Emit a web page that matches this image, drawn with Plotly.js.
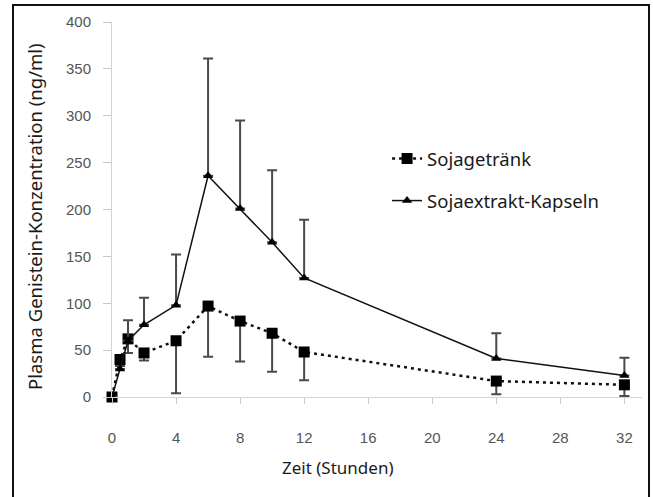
<!DOCTYPE html>
<html>
<head>
<meta charset="utf-8">
<script src="https://cdn.plot.ly/plotly-3.0.1.min.js"></script>
<style>
  html, body { margin: 0; padding: 0; background: #fff; }
  #wrap { position: relative; width: 653px; height: 497px; }
  #chart { width: 653px; height: 497px; }
  #frame { position: absolute; left: 12px; top: 4px; width: 634px; height: 500px;
           border: 2px solid #111; pointer-events: none; }
</style>
</head>
<body>
<div id="wrap">
  <div id="chart"></div>
  <div id="frame"></div>
</div>
<script>
// Time points (hours)
const zeit = [0, 0.5, 1, 2, 4, 6, 8, 10, 12, 24, 32];

// Sojagetränk (squares, dotted) – mean and lower SD
const getraenk = [0, 40, 62, 47, 60, 97, 81, 68, 48, 17, 13];
const getraenkSdMinus = [0, 3, 15, 8, 56, 54, 43, 41, 30, 14, 12];

// Sojaextrakt-Kapseln (triangles, solid) – mean and upper SD
const kapseln = [0, 30, 60, 77, 98, 236, 201, 165, 127, 41, 23];
const kapselnSdPlus = [0, 3, 22, 29, 54, 125, 94, 77, 62, 27, 19];

const zeros = zeit.map(() => 0);

const xTicks = [0, 4, 8, 12, 16, 20, 24, 28, 32];
const yTicks = [0, 50, 100, 150, 200, 250, 300, 350, 400];

const names = ["Sojagetränk", "Sojaextrakt-Kapseln"];
const xTitle = "Zeit (Stunden)";
const yTitle = "Plasma Genistein-Konzentration (ng/ml)";

const fam = "Noto Sans, Lato, sans-serif";
const legendFont = { family: fam, size: 18.5, color: "#1a1a1a" };
const xTitleFont = { family: fam, size: 17, color: "#1a1a1a" };
const yTitleFont = { family: fam, size: 18.5, color: "#1a1a1a" };
const tickFont = { family: "Liberation Sans, Arial, sans-serif", size: 15, color: "#555" };

const traces = [
  {
    x: zeit, y: getraenk, name: names[0], type: "scatter", mode: "lines+markers",
    legendgroup: "a",
    line: { color: "#111", width: 2.5, dash: "3px,4px" },
    marker: { symbol: "square", size: 11, color: "#000" },
    error_y: { type: "data", symmetric: false, array: zeros, arrayminus: getraenkSdMinus,
               color: "#4a4a4a", thickness: 2, width: 5 },
    cliponaxis: false
  },
  {
    x: zeit, y: kapseln, name: names[1], type: "scatter", mode: "lines+markers",
    legendgroup: "b",
    line: { color: "#111", width: 1.5 },
    marker: { symbol: "triangle-up", size: 9, color: "#000" },
    error_y: { type: "data", symmetric: false, array: kapselnSdPlus, arrayminus: zeros,
               color: "#4a4a4a", thickness: 2, width: 5 },
    cliponaxis: false
  }
];

const layout = {
  width: 653, height: 497,
  margin: { l: 112, r: 11, t: 22, b: 100 },
  paper_bgcolor: "#fff", plot_bgcolor: "#fff",
  showlegend: true,
  legend: {
    x: 0.519, y: (397 - 180) / 375, xanchor: "left", yanchor: "middle",
    font: legendFont, bgcolor: "rgba(0,0,0,0)",
    traceorder: "grouped", tracegroupgap: 15
  },
  xaxis: {
    range: [0, 33.1], tickvals: xTicks, ticktext: xTicks.map(String),
    showgrid: false, zeroline: false,
    showline: true, linecolor: "#d4d4d4", linewidth: 1,
    ticks: "outside", ticklen: 6, tickcolor: "#c8c8c8",
    ticklabelstandoff: 21,
    tickfont: tickFont
  },
  yaxis: {
    range: [0, 400], tickvals: yTicks, ticktext: yTicks.map(String),
    showgrid: false, zeroline: false,
    showline: true, linecolor: "#d4d4d4", linewidth: 1,
    ticks: "outside", ticklen: 8, tickcolor: "#c8c8c8",
    ticklabelstandoff: 9,
    tickfont: tickFont
  },
  annotations: [
    { text: xTitle, xref: "paper", yref: "paper", x: (338 - 112) / 530, y: -(467 - 397) / 375,
      xanchor: "center", yanchor: "middle", showarrow: false, font: xTitleFont },
    { text: yTitle, xref: "paper", yref: "paper", x: -(112 - 34) / 530, y: (397 - 217) / 375,
      xanchor: "center", yanchor: "middle", showarrow: false, textangle: -90, font: yTitleFont }
  ]
};

Plotly.newPlot("chart", traces, layout, { displayModeBar: false, staticPlot: true });
</script>
</body>
</html>
